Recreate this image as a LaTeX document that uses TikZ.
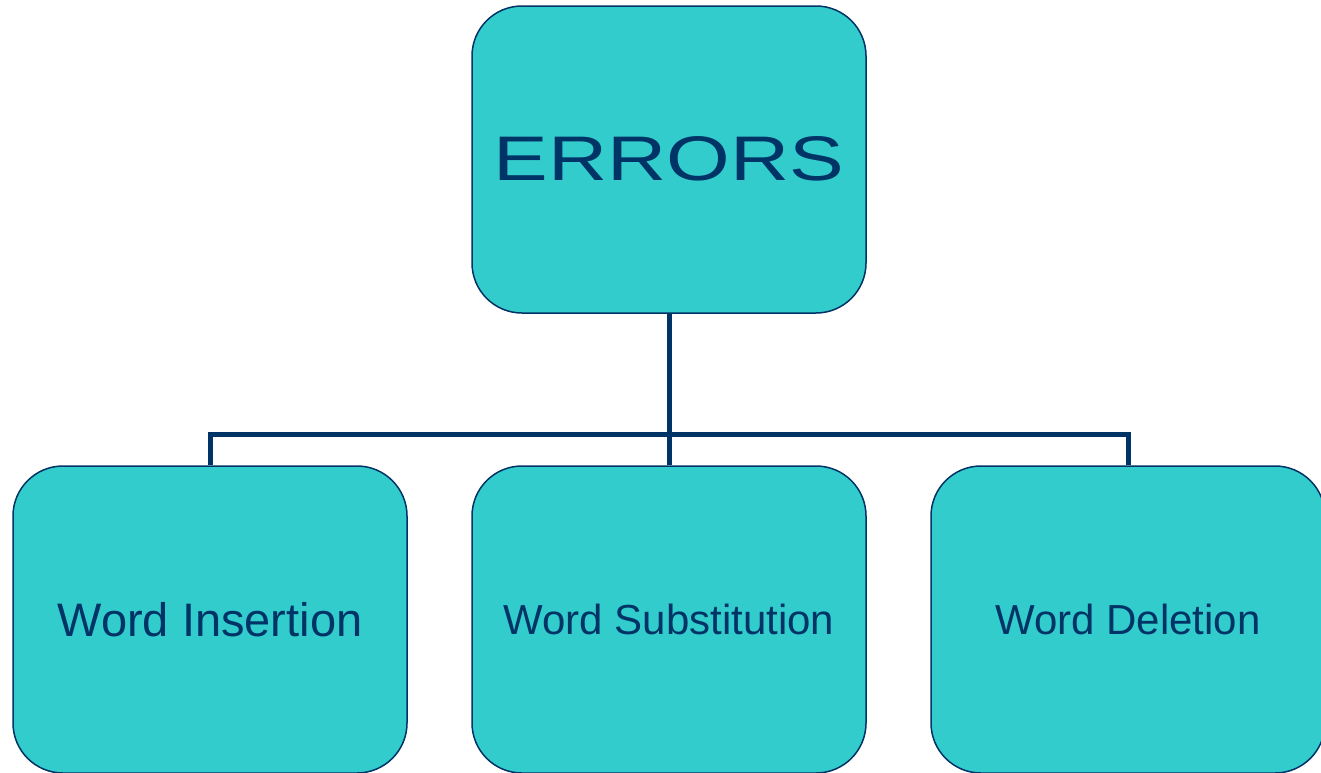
\documentclass[tikz,border=0pt]{standalone}
\usepackage{fontspec}
\setmainfont{Liberation Sans}
\definecolor{boxfill}{HTML}{33CCCC}
\definecolor{navy}{HTML}{003366}
\begin{document}
\begin{tikzpicture}[x=1pt,y=-1pt,
  box/.style={draw=navy,line width=1.5pt,fill=boxfill,rounded corners=50pt,
    minimum width=394pt,minimum height=307pt,inner sep=0pt,text=navy,align=center},
  conn/.style={draw=navy,line width=5pt,line join=miter}]
\useasboundingbox (0,0) rectangle (1321,772);
\clip (0,0) rectangle (1321,772);
\node[box] (top) at (669,159.5) {\raisebox{3pt}{\scalebox{1.3}[1]{\fontsize{63}{70}\selectfont ERRORS}}};
\node[box] (ins) at (210,619.5) {\fontsize{47}{56}\selectfont Word Insertion};
\node[box] (sub) at (669,619.5) {\fontsize{42}{50}\selectfont Word Substitution};
\node[box] (del) at (1128,619.5) {\fontsize{42}{50}\selectfont Word Deletion};
\coordinate (bus) at (669,434);
\draw[conn] (top.south) -- (bus);
\draw[conn] (ins.north) |- (bus) -| (del.north);
\draw[conn] (bus) -- (sub.north);
\end{tikzpicture}
\end{document}
